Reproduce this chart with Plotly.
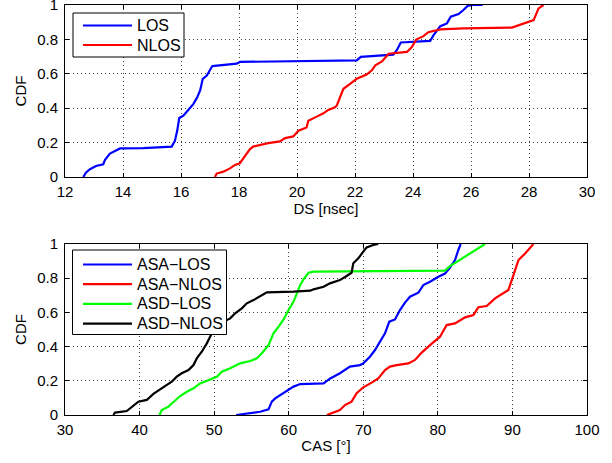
import plotly.graph_objects as go

# ---- Top panel: delay spread CDF ----
ds_los_x = [12.63, 12.72, 12.86, 13.07, 13.32, 13.38, 13.55, 13.72, 13.90, 14.70, 15.68, 15.79, 15.87, 15.94,
            16.08, 16.25, 16.43, 16.56, 16.66, 16.75, 16.89, 17.08, 17.92, 18.03, 21.4, 22.06, 22.2, 23.32,
            23.44, 23.58, 24.59, 24.71, 24.94, 25.17, 25.3, 25.57, 25.74, 25.88, 26.03, 26.4]
ds_los_y = [0.0, 0.025, 0.045, 0.064, 0.074, 0.10, 0.136, 0.152, 0.166, 0.168, 0.177, 0.21, 0.27, 0.343,
            0.357, 0.39, 0.425, 0.464, 0.503, 0.571, 0.59, 0.645, 0.659, 0.669, 0.676, 0.678, 0.698, 0.711,
            0.737, 0.782, 0.791, 0.825, 0.877, 0.893, 0.932, 0.947, 0.971, 0.994, 1.0, 1.0]

ds_nlos_x = [17.17, 17.23, 17.46, 17.69, 17.86, 18.03, 18.21, 18.38, 18.49, 18.72, 19.01, 19.41, 19.59,
             19.87, 20.05, 20.33, 20.39, 20.68, 20.91, 21.08, 21.31, 21.37, 21.48, 21.6, 21.83, 22.06, 22.4,
             22.58, 22.7, 22.93, 23.16, 23.79, 23.96, 24.11, 24.36, 24.53, 24.94, 25.74, 27.41, 27.76, 28.16,
             28.33, 28.5]
ds_nlos_y = [0.0, 0.02, 0.031, 0.05, 0.07, 0.08, 0.123, 0.162, 0.177, 0.187, 0.197, 0.207, 0.226, 0.236,
             0.269, 0.288, 0.327, 0.351, 0.37, 0.39, 0.405, 0.415, 0.464, 0.513, 0.542, 0.571, 0.596, 0.62,
             0.649, 0.672, 0.717, 0.727, 0.756, 0.799, 0.819, 0.842, 0.858, 0.864, 0.869, 0.889, 0.912, 0.98,
             1.0]

# ---- Bottom panel: angular spread CDF ----
asa_los_x = [52.95, 56.17, 57.29, 57.73, 58.19, 58.86, 59.98, 60.65, 61.54, 64.68, 65.57, 66.87, 68.21,
             69.55, 70.0, 70.89, 71.57, 72.24, 72.91, 73.49, 74.25, 74.92, 75.59, 76.26, 77.38, 78.05, 78.95,
             80.07, 80.96, 81.63, 82.3, 82.75, 83.06]
asa_los_y = [0.0, 0.019, 0.033, 0.078, 0.097, 0.117, 0.15, 0.166, 0.181, 0.185, 0.214, 0.244, 0.283,
             0.292, 0.302, 0.341, 0.38, 0.429, 0.478, 0.546, 0.559, 0.614, 0.657, 0.692, 0.715, 0.76, 0.779,
             0.808, 0.827, 0.862, 0.906, 0.965, 1.0]

asa_nlos_x = [65.12, 66.0, 66.87, 67.54, 68.43, 69.11, 70.0, 71.12, 72.01, 72.91, 73.58, 74.47, 76.04,
              76.94, 77.83, 78.95, 80.29, 81.18, 82.3, 83.65, 84.77, 85.44, 86.55, 87.67, 88.34, 89.46, 89.91,
              90.81, 91.7, 92.37, 92.82]
asa_nlos_y = [0.0, 0.014, 0.029, 0.058, 0.078, 0.127, 0.162, 0.189, 0.214, 0.263, 0.283, 0.292, 0.302,
              0.322, 0.365, 0.409, 0.458, 0.526, 0.536, 0.571, 0.585, 0.63, 0.637, 0.682, 0.702, 0.731, 0.789,
              0.906, 0.945, 0.975, 1.0]

asd_los_x = [42.66, 42.98, 43.87, 44.54, 45.44, 46.33, 47.23, 48.12, 49.24, 50.36, 51.03, 52.15, 53.49,
             54.83, 55.73, 56.4, 57.29, 57.96, 58.64, 59.31, 59.98, 60.65, 61.1, 61.54, 61.99, 62.66, 63.33,
             80.96, 81.63, 82.53, 83.42, 84.32, 85.44, 86.33]
asd_los_y = [0.0, 0.029, 0.049, 0.078, 0.111, 0.136, 0.156, 0.185, 0.205, 0.224, 0.253, 0.273, 0.302,
             0.316, 0.331, 0.361, 0.409, 0.478, 0.517, 0.559, 0.614, 0.663, 0.711, 0.76, 0.793, 0.832, 0.838,
             0.844, 0.871, 0.895, 0.922, 0.945, 0.975, 1.0]

asd_nlos_x = [36.49, 36.7, 38.28, 38.95, 39.84, 40.96, 41.86, 42.75, 43.65, 44.32, 44.99, 45.66, 46.56,
              47.23, 47.67, 48.34, 49.02, 49.69, 50.36, 51.25, 52.15, 52.82, 53.71, 54.38, 55.28, 56.17,
              57.07, 60.65, 62.89, 63.33, 64.68, 65.53, 66.87, 67.76, 68.43, 68.66, 69.33, 70.0, 70.45,
              71.34, 72.0]
asd_nlos_y = [0.0, 0.014, 0.023, 0.049, 0.078, 0.088, 0.123, 0.15, 0.175, 0.195, 0.224, 0.244, 0.263,
              0.292, 0.331, 0.37, 0.419, 0.478, 0.517, 0.546, 0.565, 0.595, 0.624, 0.653, 0.672, 0.692,
              0.717, 0.721, 0.727, 0.735, 0.75, 0.77, 0.789, 0.813, 0.832, 0.887, 0.916, 0.955, 0.98,
              0.994, 1.0]

top_names = ["LOS", "NLOS"]
top_colors = ["#0000FF", "#FF0000"]
bot_names = ["ASA\u2212LOS", "ASA\u2212NLOS", "ASD\u2212LOS", "ASD\u2212NLOS"]
bot_colors = ["#0000FF", "#FF0000", "#00FF00", "#000000"]

x_top_ticks = [12, 14, 16, 18, 20, 22, 24, 26, 28, 30]
x_bot_ticks = [30, 40, 50, 60, 70, 80, 90, 100]
y_ticks = [0, 0.2, 0.4, 0.6, 0.8, 1]

FONT = "Liberation Sans, Arial, Helvetica, sans-serif"
LW = 2.2
W, H = 612, 463

fig = go.Figure()

top_series = [(ds_los_x, ds_los_y), (ds_nlos_x, ds_nlos_y)]
bot_series = [(asa_los_x, asa_los_y), (asa_nlos_x, asa_nlos_y),
              (asd_los_x, asd_los_y), (asd_nlos_x, asd_nlos_y)]

for (x, y), n, c in zip(top_series, top_names, top_colors):
    fig.add_trace(go.Scatter(x=x, y=y, name=n, mode="lines", line=dict(color=c, width=LW),
                             xaxis="x", yaxis="y", showlegend=False))
for (x, y), n, c in zip(bot_series, bot_names, bot_colors):
    fig.add_trace(go.Scatter(x=x, y=y, name=n, mode="lines", line=dict(color=c, width=LW),
                             xaxis="x2", yaxis="y2", showlegend=False))

xdom = [65 / W, 587 / W]
top_dom = [(H - 177) / H, (H - 5) / H]
bot_dom = [(H - 415) / H, (H - 244) / H]

axis_common = dict(showline=True, linecolor="black", linewidth=1, mirror="ticks",
                   ticks="inside", ticklen=4, tickcolor="black", automargin=False,
                   ticklabeloverflow="allow",
                   showgrid=True, gridcolor="rgba(0,0,0,0.75)", griddash="1px,3px", gridwidth=1,
                   zeroline=False, tickfont=dict(size=15, color="black", family=FONT),
                   title_font=dict(size=15, color="black", family=FONT))

# ---- legends drawn as boxes + sample lines + text (paper pixel coords) ----
def px_x(p):
    return p / W

def px_y(p):
    return (H - p) / H

shapes = []
annotations = []

def make_legend(names, colors, box, y0, dy):
    x0b, y0b, x1b, y1b = box
    shapes.append(dict(type="rect", xref="paper", yref="paper",
                       x0=px_x(x0b), x1=px_x(x1b), y0=px_y(y1b), y1=px_y(y0b),
                       line=dict(color="black", width=1), fillcolor="white", layer="above"))
    for i, (n, c) in enumerate(zip(names, colors)):
        yy = y0 + i * dy
        shapes.append(dict(type="line", xref="paper", yref="paper",
                           x0=px_x(83), x1=px_x(132), y0=px_y(yy), y1=px_y(yy),
                           line=dict(color=c, width=LW), layer="above"))
        annotations.append(dict(text=n, xref="paper", yref="paper", x=px_x(135), y=px_y(yy),
                                xanchor="left", yanchor="middle", showarrow=False,
                                font=dict(size=16, family=FONT, color="black")))

make_legend(top_names, top_colors, (73, 13, 184, 57), 25.5, 19.5)
make_legend(bot_names, bot_colors, (72.5, 250, 226.5, 334.5), 264.5, 19.7)

fig.update_layout(
    width=W, height=H,
    margin=dict(l=0, r=0, t=0, b=0, autoexpand=False),
    paper_bgcolor="white", plot_bgcolor="white",
    font=dict(family=FONT, color="black", size=15),
    showlegend=False,
    xaxis=dict(domain=xdom, range=[12, 30], tickvals=x_top_ticks, anchor="y",
               ticklabelstandoff=1, title=dict(text="DS [nsec]", standoff=3), **axis_common),
    yaxis=dict(domain=top_dom, range=[0, 1], tickvals=y_ticks, anchor="x",
               ticklabelstandoff=3, title=dict(text="CDF", standoff=6), **axis_common),
    xaxis2=dict(domain=xdom, range=[30, 100], tickvals=x_bot_ticks, anchor="y2",
                ticklabelstandoff=1, title=dict(text="CAS [\u00b0]", standoff=3), **axis_common),
    yaxis2=dict(domain=bot_dom, range=[0, 1], tickvals=y_ticks, anchor="x2",
                ticklabelstandoff=3, title=dict(text="CDF", standoff=6), **axis_common),
    shapes=shapes,
    annotations=annotations,
)

fig.write_html("out.html", config={"displayModeBar": False},
               post_script="document.body.style.margin='0';")
